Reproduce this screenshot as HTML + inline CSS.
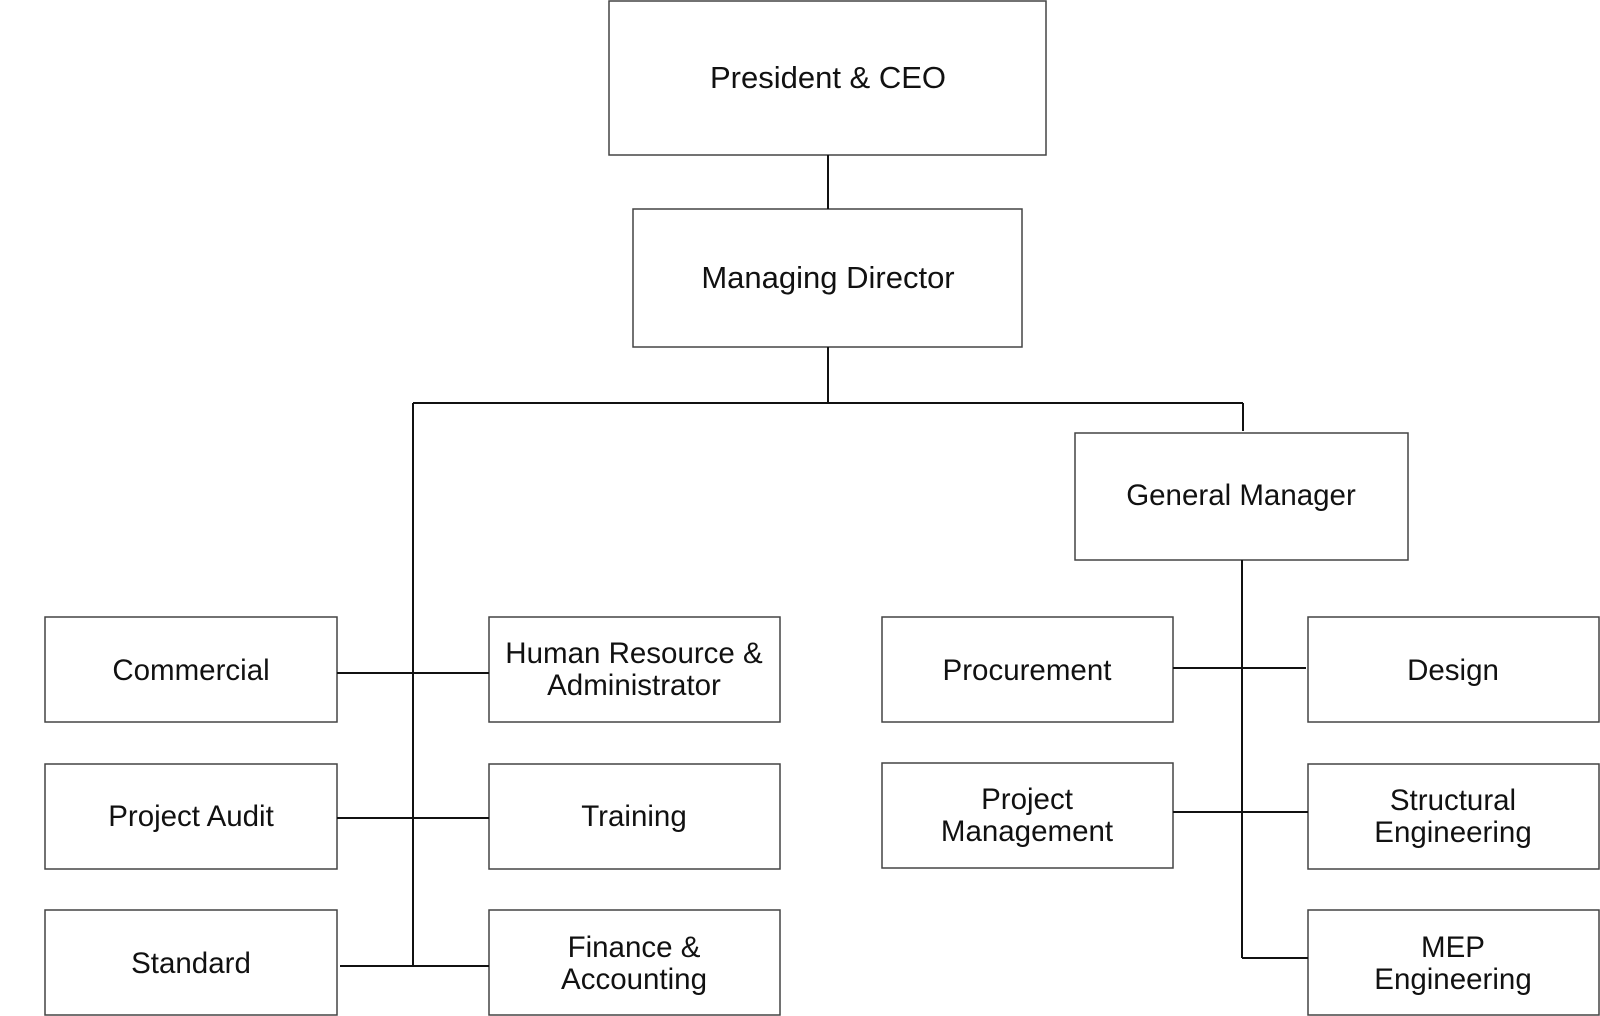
<!DOCTYPE html>
<html><head><meta charset="utf-8"><style>
html,body{margin:0;padding:0;background:#fff;}
svg{display:block}
text{font-family:"Liberation Sans",Arial,sans-serif;fill:#111;text-anchor:middle;}
</style></head><body>
<svg width="1600" height="1016" viewBox="0 0 1600 1016" xmlns="http://www.w3.org/2000/svg">
<g fill="#fff" stroke="#444" stroke-width="1.5">
<rect x="609" y="1" width="437" height="154"/>
<rect x="633" y="209" width="389" height="138"/>
<rect x="1075" y="433" width="333" height="127"/>
<rect x="45" y="617" width="292" height="105"/>
<rect x="45" y="764" width="292" height="105"/>
<rect x="45" y="910" width="292" height="105"/>
<rect x="489" y="617" width="291" height="105"/>
<rect x="489" y="764" width="291" height="105"/>
<rect x="489" y="910" width="291" height="105"/>
<rect x="882" y="617" width="291" height="105"/>
<rect x="882" y="763" width="291" height="105"/>
<rect x="1308" y="617" width="291" height="105"/>
<rect x="1308" y="764" width="291" height="105"/>
<rect x="1308" y="910" width="291" height="105"/>
</g>
<g stroke="#111" stroke-width="2" fill="none">
<line x1="828" y1="155" x2="828" y2="209"/>
<line x1="828" y1="347" x2="828" y2="403"/>
<line x1="413" y1="403" x2="1243" y2="403"/>
<line x1="1243" y1="403" x2="1243" y2="431"/>
<line x1="413" y1="403" x2="413" y2="966"/>
<line x1="337" y1="673" x2="489" y2="673"/>
<line x1="337" y1="818" x2="489" y2="818"/>
<line x1="340" y1="966" x2="489" y2="966"/>
<line x1="1242" y1="560" x2="1242" y2="958"/>
<line x1="1173" y1="668" x2="1306" y2="668"/>
<line x1="1173" y1="812" x2="1308" y2="812"/>
<line x1="1242" y1="958" x2="1308" y2="958"/>
</g>
<text x="828" y="88" font-size="31">President &amp; CEO</text>
<text x="828" y="288" font-size="31">Managing Director</text>
<text x="1241" y="505" font-size="29.5">General Manager</text>
<text x="191" y="680" font-size="29.5">Commercial</text>
<text x="191" y="826" font-size="29.5">Project Audit</text>
<text x="191" y="973" font-size="29.5">Standard</text>
<text x="634" y="663" font-size="29.5">Human Resource &amp;</text>
<text x="634" y="695" font-size="29.5">Administrator</text>
<text x="634" y="826" font-size="29.5">Training</text>
<text x="634" y="957" font-size="29.5">Finance &amp;</text>
<text x="634" y="989" font-size="29.5">Accounting</text>
<text x="1027" y="680" font-size="29.5">Procurement</text>
<text x="1027" y="809" font-size="29.5">Project</text>
<text x="1027" y="841" font-size="29.5">Management</text>
<text x="1453" y="680" font-size="29.5">Design</text>
<text x="1453" y="810" font-size="29.5">Structural</text>
<text x="1453" y="842" font-size="29.5">Engineering</text>
<text x="1453" y="957" font-size="29.5">MEP</text>
<text x="1453" y="989" font-size="29.5">Engineering</text>
</svg>
</body></html>
